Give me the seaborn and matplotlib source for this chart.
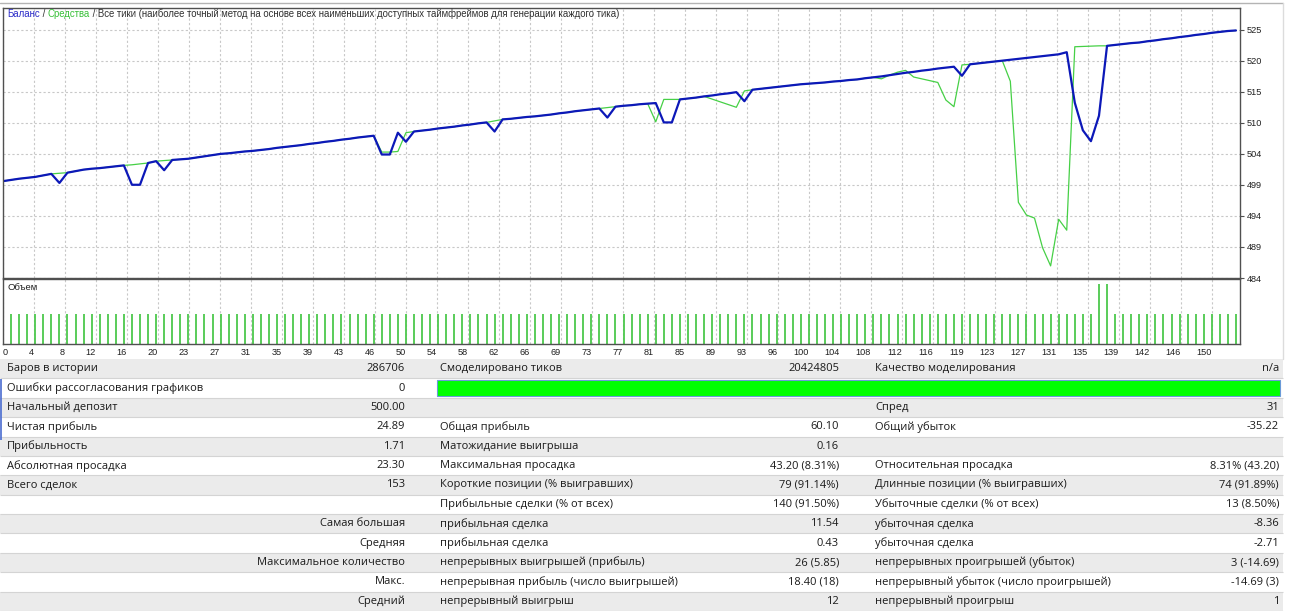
import numpy as np
import pandas as pd
import matplotlib
matplotlib.use("Agg")
import matplotlib.pyplot as plt
import seaborn as sns
from matplotlib.lines import Line2D
from matplotlib.patches import Rectangle

# баланс / средства по номеру сделки (0..153)
balance = [
    500.00, 500.20, 500.40, 500.55, 500.70, 500.95, 501.20, 499.70, 501.40, 501.65,
    501.90, 502.05, 502.15, 502.30, 502.45, 502.60, 499.40, 499.40, 503.00, 503.30,
    501.80, 503.50, 503.60, 503.70, 503.90, 504.10, 504.30, 504.50, 504.60, 504.75,
    504.90, 505.00, 505.15, 505.30, 505.50, 505.65, 505.80, 505.95, 506.15, 506.30,
    506.50, 506.65, 506.85, 507.00, 507.20, 507.35, 507.50, 504.40, 504.40, 508.00,
    506.50, 508.20, 508.35, 508.50, 508.70, 508.85, 509.00, 509.20, 509.35, 509.55,
    509.70, 508.20, 510.20, 510.30, 510.45, 510.60, 510.70, 510.85, 511.00, 511.20,
    511.35, 511.55, 511.70, 511.85, 512.00, 510.50, 512.30, 512.45, 512.55, 512.70,
    512.80, 512.90, 509.70, 509.70, 513.50, 513.65, 513.80, 514.00, 514.15, 514.35,
    514.50, 514.70, 513.20, 515.10, 515.25, 515.40, 515.55, 515.70, 515.85, 516.00,
    516.10, 516.20, 516.30, 516.45, 516.55, 516.70, 516.80, 517.00, 517.15, 517.30,
    517.50, 517.70, 517.90, 518.05, 518.25, 518.40, 518.60, 518.75, 518.90, 517.40,
    519.30, 519.45, 519.60, 519.75, 519.90, 520.05, 520.20, 520.35, 520.50, 520.65,
    520.80, 520.95, 521.30, 512.95, 508.40, 506.60, 510.80, 522.35, 522.50, 522.65,
    522.80, 522.90, 523.10, 523.25, 523.45, 523.60, 523.80, 523.95, 524.15, 524.30,
    524.50, 524.65, 524.80, 524.89,
]
equity = [
    500.00, 500.20, 500.40, 500.55, 500.70, 500.95, 501.20, 501.30, 501.40, 501.65,
    501.90, 502.05, 502.15, 502.30, 502.45, 502.60, 502.70, 502.85, 503.00, 503.30,
    503.40, 503.50, 503.60, 503.70, 503.90, 504.10, 504.30, 504.50, 504.60, 504.75,
    504.90, 505.00, 505.15, 505.30, 505.50, 505.65, 505.80, 505.95, 506.15, 506.30,
    506.50, 506.65, 506.85, 507.00, 507.20, 507.35, 507.50, 504.80, 504.80, 504.90,
    508.00, 508.20, 508.35, 508.50, 508.70, 508.85, 509.00, 509.20, 509.35, 509.55,
    509.70, 509.95, 510.20, 510.30, 510.45, 510.60, 510.70, 510.85, 511.00, 511.20,
    511.35, 511.55, 511.70, 511.85, 512.00, 512.15, 512.30, 512.45, 512.55, 512.70,
    512.80, 509.80, 513.50, 513.50, 513.50, 513.65, 513.80, 514.00, 513.55, 513.10,
    512.65, 512.20, 514.90, 515.10, 515.25, 515.40, 515.55, 515.70, 515.85, 516.00,
    516.10, 516.20, 516.30, 516.45, 516.55, 516.70, 516.80, 517.00, 517.15, 516.90,
    517.50, 518.00, 518.30, 517.20, 516.90, 516.60, 516.30, 513.40, 512.30, 519.20,
    519.30, 519.45, 519.60, 519.75, 519.90, 516.50, 496.50, 494.40, 493.90, 489.00,
    486.00, 493.70, 491.90, 522.20, 522.25, 522.30, 522.35, 522.35, 522.50, 522.65,
    522.80, 522.90, 523.10, 523.25, 523.45, 523.60, 523.80, 523.95, 524.15, 524.30,
    524.50, 524.65, 524.80, 524.89,
]
# объем (лоты) по сделкам 1..153
volume = [
    0.01, 0.01, 0.01, 0.01, 0.01, 0.01, 0.01, 0.01, 0.01, 0.01, 0.01, 0.01, 0.01, 0.01, 0.01, 0.01, 0.01,
    0.01, 0.01, 0.01, 0.01, 0.01, 0.01, 0.01, 0.01, 0.01, 0.01, 0.01, 0.01, 0.01, 0.01, 0.01, 0.01, 0.01,
    0.01, 0.01, 0.01, 0.01, 0.01, 0.01, 0.01, 0.01, 0.01, 0.01, 0.01, 0.01, 0.01, 0.01, 0.01, 0.01, 0.01,
    0.01, 0.01, 0.01, 0.01, 0.01, 0.01, 0.01, 0.01, 0.01, 0.01, 0.01, 0.01, 0.01, 0.01, 0.01, 0.01, 0.01,
    0.01, 0.01, 0.01, 0.01, 0.01, 0.01, 0.01, 0.01, 0.01, 0.01, 0.01, 0.01, 0.01, 0.01, 0.01, 0.01, 0.01,
    0.01, 0.01, 0.01, 0.01, 0.01, 0.01, 0.01, 0.01, 0.01, 0.01, 0.01, 0.01, 0.01, 0.01, 0.01, 0.01, 0.01,
    0.01, 0.01, 0.01, 0.01, 0.01, 0.01, 0.01, 0.01, 0.01, 0.01, 0.01, 0.01, 0.01, 0.01, 0.01, 0.01, 0.01,
    0.01, 0.01, 0.01, 0.01, 0.01, 0.01, 0.01, 0.01, 0.01, 0.01, 0.01, 0.01, 0.01, 0.01, 0.01, 0.01, 0.02,
    0.02, 0.01, 0.01, 0.01, 0.01, 0.01, 0.01, 0.01, 0.01, 0.01, 0.01, 0.01, 0.01, 0.01, 0.01, 0.01, 0.01,
]
x_labels = [0, 4, 8, 12, 16, 20, 23, 27, 31, 35, 39, 43, 46, 50, 54, 58, 62, 66, 69, 73,
            77, 81, 85, 89, 93, 96, 100, 104, 108, 112, 116, 119, 123, 127, 131, 135, 139, 142, 146, 150]
y_labels = [484, 489, 494, 499, 504, 510, 515, 520, 525]

# таблица отчета
c1_labels = ["Баров в истории", "Ошибки рассогласования графиков", "Начальный депозит", "Чистая прибыль",
             "Прибыльность", "Абсолютная просадка", "Всего сделок", "", "Самая большая", "Средняя",
             "Максимальное количество", "Макс.", "Средний"]
c1_values = ["286706", "0", "500.00", "24.89", "1.71", "23.30", "153", "", "", "", "", "", ""]
c2_labels = ["Смоделировано тиков", "", "", "Общая прибыль", "Матожидание выигрыша", "Максимальная просадка",
             "Короткие позиции (% выигравших)", "Прибыльные сделки (% от всех)", "прибыльная сделка",
             "прибыльная сделка", "непрерывных выигрышей (прибыль)", "непрерывная прибыль (число выигрышей)",
             "непрерывный выигрыш"]
c2_values = ["20424805", "", "", "60.10", "0.16", "43.20 (8.31%)", "79 (91.14%)", "140 (91.50%)",
             "11.54", "0.43", "26 (5.85)", "18.40 (18)", "12"]
c3_labels = ["Качество моделирования", "", "Спред", "Общий убыток", "", "Относительная просадка",
             "Длинные позиции (% выигравших)", "Убыточные сделки (% от всех)", "убыточная сделка",
             "убыточная сделка", "непрерывных проигрышей (убыток)", "непрерывный убыток (число проигрышей)",
             "непрерывный проигрыш"]
c3_values = ["n/a", "", "31", "-35.22", "", "8.31% (43.20)", "74 (91.89%)", "13 (8.50%)",
             "-8.36", "-2.71", "3 (-14.69)", "-14.69 (3)", "1"]

sns.set_style("white")
plt.rcParams['font.family'] = ['Liberation Sans', 'DejaVu Sans']

W, H = 1290, 611
fig = plt.figure(figsize=(W / 100, H / 100), dpi=100)


def box(l, t, r, b):
    return [l / W, 1 - b / H, (r - l) / W, (b - t) / H]


ax = fig.add_axes(box(3, 8, 1240, 278))
axv = fig.add_axes(box(3, 279, 1240, 344))
axt = fig.add_axes(box(0, 359, W, H))

frame = '#505050'
grid_c = '#c8c8c8'
xt = np.linspace(0, x_labels[-1], len(x_labels))

# --- график баланса
df = pd.DataFrame({'trade': np.arange(len(balance)), 'balance': balance, 'equity': equity})
sns.lineplot(data=df, x='trade', y='equity', ax=ax, color='#46d046', linewidth=0.9)
sns.lineplot(data=df, x='trade', y='balance', ax=ax, color='#0c18b8', linewidth=1.6)
ax.set(xlabel='', ylabel='')
ax.set_xlim(0, 153.5)
ax.set_ylim(484, 528.6)
ax.set_xticks(xt)
ax.set_yticks(np.linspace(y_labels[0], y_labels[-1], len(y_labels)), labels=[str(v) for v in y_labels])
ax.yaxis.tick_right()
ax.tick_params(axis='x', length=0, labelbottom=False)
ax.tick_params(axis='y', length=3, width=0.8, pad=2, labelsize=6.6, color=frame, labelcolor='#202020')
ax.grid(True, color=grid_c, linestyle=(0, (2, 2)), linewidth=0.8)
for s in ax.spines.values():
    s.set_color(frame)
    s.set_linewidth(1)

tsize = 6.95
t1 = fig.text(7 / W, 1 - 14 / H, "Баланс", color='#2a2ac8', fontsize=tsize, va='center')
t2 = ax.annotate(" / ", xy=(1, 0), xycoords=t1, va='bottom', color='#303030', fontsize=tsize)
t3 = ax.annotate("Средства", xy=(1, 0), xycoords=t2, va='bottom', color='#38c038', fontsize=tsize)
ax.annotate(" / Все тики (наиболее точный метод на основе всех наименьших доступных таймфреймов для генерации каждого тика)",
            xy=(1, 0), xycoords=t3, va='bottom', color='#303030', fontsize=tsize)

# --- объем
trades_v = np.arange(1, len(volume) + 1)
axv.vlines(trades_v, 0, volume, color='#4cc84c', linewidth=1.3)
axv.set_xlim(0, 153.5)
axv.set_ylim(0, 0.0215)
axv.set_yticks([])
axv.set_xticks(xt, labels=[str(v) for v in x_labels])
for i, lbl in enumerate(axv.get_xticklabels()):
    lbl.set_ha('left' if i == 0 else 'right')
axv.tick_params(axis='x', length=2, width=0.8, pad=1, labelsize=6.6, color=frame, labelcolor='#202020')
axv.grid(True, axis='x', color=grid_c, linestyle=(0, (2, 2)), linewidth=0.8)
axv.set_axisbelow(True)
for s in axv.spines.values():
    s.set_color(frame)
    s.set_linewidth(1)
fig.text(7 / W, 1 - 287 / H, "Объем", fontsize=6.8, va='center', color='#202020')

# --- таблица
axt.set_xlim(0, W)
axt.set_ylim(H, 359)
axt.axis('off')
row_h = (H - 359) / len(c1_labels)
tfont = dict(family=['Open Sans', 'DejaVu Sans'], fontsize=8.0, color='#1a1a1a', va='center')
for i in range(len(c1_labels)):
    top = 359 + i * row_h
    if i % 2 == 0:
        axt.add_patch(Rectangle((0, top), 1283, row_h, facecolor='#ebebeb', edgecolor='none'))
    axt.hlines(top + row_h, 0, 1283, color='#d4d4d4', linewidth=0.8)
    yc = top + row_h / 2
    if i < 8:
        axt.text(7, yc, c1_labels[i], ha='left', **tfont)
    else:
        axt.text(405, yc, c1_labels[i], ha='right', **tfont)
    axt.text(405, yc, c1_values[i], ha='right', **tfont)
    axt.text(440, yc, c2_labels[i], ha='left', **tfont)
    axt.text(839, yc, c2_values[i], ha='right', **tfont)
    axt.text(875, yc, c3_labels[i], ha='left', **tfont)
    axt.text(1279, yc, c3_values[i], ha='right', **tfont)

axt.add_patch(Rectangle((437, 379.5), 843, 16, facecolor='#00ff00', edgecolor='#6a9ad8', linewidth=0.8))
axt.vlines(1, 379, 440, color='#4a6cd0', linewidth=1.2)

fig.add_artist(Line2D([0, 1283 / W], [1 - 2.5 / H] * 2, color='#b4b4b4', linewidth=1))
fig.add_artist(Line2D([1283 / W] * 2, [1 - 2.5 / H, 1 - 359 / H], color='#dcdcdc', linewidth=1))

fig.savefig("out.png", dpi=100)
